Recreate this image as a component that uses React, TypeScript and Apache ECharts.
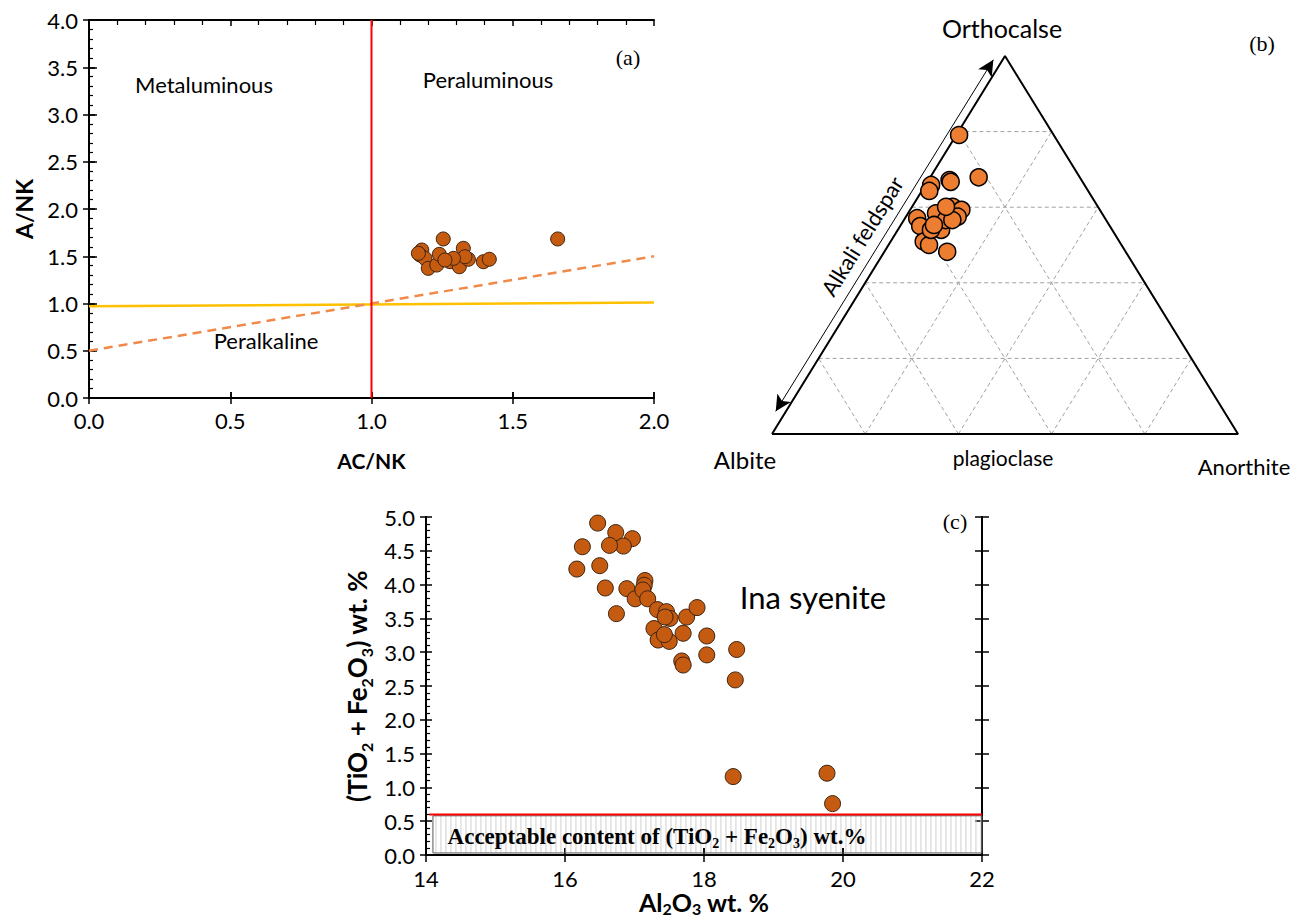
import React, { useEffect, useRef } from "react";
import * as echarts from "echarts";

// ---------- Panel (a): A/NK vs AC/NK ----------
const acnk = [1.254, 1.178, 1.172, 1.189, 1.201, 1.231, 1.240, 1.278, 1.311, 1.325, 1.343, 1.331, 1.396, 1.417, 1.290, 1.260, 1.166, 1.659];
const ank = [1.683, 1.566, 1.513, 1.478, 1.372, 1.407, 1.520, 1.442, 1.389, 1.584, 1.468, 1.495, 1.442, 1.468, 1.478, 1.460, 1.531, 1.683];
const redBoundaryA = [[1, 0], [1, 4]];
const yellowBoundaryA = [[0, 0.97], [2, 1.01]];
const dashedBoundaryA = [[0, 0.5], [2, 1.5]];

// ---------- Panel (b): Or - Ab - An ternary ----------
const orth = [0.791, 0.679, 0.659, 0.643, 0.672, 0.667, 0.571, 0.550, 0.509, 0.500, 0.482, 0.566, 0.553, 0.584, 0.601, 0.593, 0.575, 0.540, 0.540, 0.584, 0.566, 0.566, 0.553, 0.601];
const anor = [0.006, 0.104, 0.012, 0.016, 0.045, 0.050, 0.026, 0.043, 0.071, 0.087, 0.135, 0.072, 0.086, 0.085, 0.087, 0.110, 0.111, 0.093, 0.071, 0.060, 0.090, 0.104, 0.071, 0.073];
const gridFractions = [0.2, 0.4, 0.6, 0.8];

// ---------- Panel (c): TiO2+Fe2O3 vs Al2O3 ----------
const al2o3 = [16.47, 16.73, 16.97, 16.84, 16.64, 16.25, 16.17, 16.50, 16.58, 16.74, 16.89, 17.01, 17.15, 17.14, 17.12, 17.19, 17.33, 17.46, 17.51, 17.44, 17.75, 17.90, 17.28, 17.34, 17.50, 17.43, 17.70, 18.04, 18.04, 17.68, 17.70, 18.47, 18.45, 18.42, 19.77, 19.85];
const tife = [4.91, 4.77, 4.68, 4.57, 4.58, 4.56, 4.23, 4.28, 3.95, 3.57, 3.94, 3.79, 4.06, 3.99, 3.92, 3.79, 3.63, 3.60, 3.50, 3.52, 3.52, 3.66, 3.35, 3.18, 3.16, 3.26, 3.28, 3.24, 2.96, 2.87, 2.81, 3.04, 2.59, 1.16, 1.21, 0.76];
const acceptableLimit = 0.6;
const acceptableBox = [[14.1, 0.03, 22, 0.58]];

const SANS = "Lato, 'Open Sans', sans-serif";
const SERIF = "'Liberation Serif', 'DejaVu Serif', serif";

// ternary (Ab, Or, An) -> cartesian (apex Or at top)
const tern = (or: number, an: number) => [an + or / 2, or];

const axisLine = { show: true, lineStyle: { color: "#000", width: 2 } };
function ax(grid: number, pos: string, min: number, max: number, interval: number, extra: any = {}) {
  return {
    type: "value",
    gridIndex: grid,
    position: pos,
    min,
    max,
    interval,
    splitLine: { show: false },
    axisLine,
    axisTick: { show: false },
    axisLabel: { show: false },
    ...extra,
  };
}
const tick = (inside: boolean, length: number) => ({
  show: true,
  inside,
  length,
  lineStyle: { color: "#000", width: 1.5 },
});
const minor = (length: number) => ({
  show: true,
  splitNumber: 5,
  length,
  lineStyle: { color: "#000", width: 1.2 },
});
const tickLabel = (fmt: (v: number) => string, margin: number, size = 22) => ({
  show: true,
  formatter: fmt,
  margin,
  color: "#000",
  fontFamily: SANS,
  fontSize: size,
});
const subRich = (size: number, sub: number, lh: number) => ({
  b: { fontFamily: SANS, fontWeight: "bold", fontSize: size, color: "#000", lineHeight: lh },
  s: { fontFamily: SANS, fontWeight: "bold", fontSize: sub, color: "#000", lineHeight: lh, verticalAlign: "bottom" },
});

export default function App() {
  const ref = useRef<HTMLDivElement>(null);

  useEffect(() => {
    document.body.style.margin = "0";
    document.body.style.overflow = "hidden";
    if (!ref.current) return;
    const chart = echarts.init(ref.current, null, { renderer: "svg" });

    const xAxis = [
      // grid 0 (a)
      ax(0, "bottom", 0, 2, 0.5, {
        axisTick: tick(false, 6),
        axisLabel: tickLabel((v) => v.toFixed(1), 11),
        name: "AC/NK",
        nameLocation: "middle",
        nameGap: 52,
        nameTextStyle: { fontFamily: SANS, fontWeight: "bold", fontSize: 21, color: "#000" },
      }),
      ax(0, "bottom", 0, 2, 0.5, { axisTick: tick(true, 6) }),
      ax(0, "top", 0, 2, 0.5, { axisTick: tick(false, 6) }),
      ax(0, "top", 0, 2, 0.5, { axisTick: tick(true, 6), minorTick: minor(5) }),
      // grid 1 (b) hidden
      { type: "value", gridIndex: 1, min: 0, max: 1, show: false },
      // grid 2 (c)
      ax(2, "bottom", 14, 22, 2, {
        axisTick: tick(false, 7),
        axisLabel: tickLabel((v) => String(v), 12, 22),
        name: "{b|Al}{s|2}{b|O}{s|3}{b| wt. %}",
        nameLocation: "middle",
        nameGap: 29,
        nameTextStyle: { color: "#000", rich: subRich(25, 16, 28) },
      }),
      ax(2, "bottom", 14, 22, 2, { axisTick: tick(true, 7) }),
      ax(2, "top", 14, 22, 2, { axisTick: tick(false, 7) }),
    ];

    const yAxis = [
      // grid 0 (a)
      ax(0, "left", 0, 4, 0.5, {
        axisTick: tick(false, 6),
        axisLabel: tickLabel((v) => v.toFixed(1), 11),
        name: "A/NK",
        nameLocation: "middle",
        nameGap: 54,
        nameTextStyle: { fontFamily: SANS, fontWeight: "bold", fontSize: 23, color: "#000" },
      }),
      ax(0, "left", 0, 4, 0.5, { axisTick: tick(true, 6), minorTick: minor(4) }),
      ax(0, "right", 0, 4, 0.5, { axisTick: tick(false, 8) }),
      // grid 1 (b) hidden
      { type: "value", gridIndex: 1, min: 0, max: 1, show: false },
      // grid 2 (c)
      ax(2, "left", 0, 5, 0.5, {
        axisTick: tick(false, 6),
        axisLabel: tickLabel((v) => v.toFixed(1), 11),
        name: "{b|(TiO}{s|2}{b| + Fe}{s|2}{b|O}{s|3}{b|) wt. %}",
        nameLocation: "middle",
        nameGap: 52,
        nameTextStyle: { color: "#000", rich: subRich(26, 16, 34) },
      }),
      ax(2, "left", 0, 5, 0.5, { axisTick: tick(true, 6), minorTick: minor(4) }),
      ax(2, "right", 0, 5, 0.5, { axisTick: tick(false, 7) }),
      ax(2, "right", 0, 5, 0.5, { axisTick: tick(true, 7) }),
    ];

    // ternary grid lines
    const ternLines: any[] = [];
    gridFractions.forEach((k) => {
      ternLines.push([tern(k, 0), tern(k, 1 - k)]);
      ternLines.push([tern(0, k), tern(1 - k, k)]);
      ternLines.push([tern(0, 1 - k), tern(1 - k, 0)]);
    });

    const series: any[] = [
      // ---- (a)
      {
        type: "line", xAxisIndex: 0, yAxisIndex: 0, data: yellowBoundaryA, symbol: "none",
        lineStyle: { color: "#FFC000", width: 2.5 }, z: 2, silent: true,
      },
      {
        type: "line", xAxisIndex: 0, yAxisIndex: 0, data: dashedBoundaryA, symbol: "none",
        lineStyle: { color: "#F08A4B", width: 2.5, type: [9, 6] }, z: 2, silent: true,
      },
      {
        type: "line", xAxisIndex: 0, yAxisIndex: 0, data: redBoundaryA, symbol: "none",
        lineStyle: { color: "#FF0000", width: 2 }, z: 2, silent: true,
      },
      {
        type: "scatter", xAxisIndex: 0, yAxisIndex: 0,
        data: acnk.map((x, i) => [x, ank[i]]),
        symbolSize: 14,
        itemStyle: { color: "#C55A11", borderColor: "#3b2410", borderWidth: 1, opacity: 1 },
        z: 5,
      },
      // ---- (b)
      ...ternLines.map((seg) => ({
        type: "line", xAxisIndex: 4, yAxisIndex: 3, data: seg, symbol: "none",
        lineStyle: { color: "#a0a0a0", width: 1, type: [4, 3] }, z: 1, silent: true,
      })),
      {
        type: "line", xAxisIndex: 4, yAxisIndex: 3, symbol: "none", clip: false, silent: true,
        data: [tern(0, 0), tern(1, 0), tern(0, 1), tern(0, 0)],
        lineStyle: { color: "#000", width: 2 }, z: 3,
        markLine: {
          silent: true,
          symbol: ["arrow", "arrow"],
          symbolSize: [12, 16],
          label: { show: false },
          lineStyle: { color: "#000", width: 1, type: "solid" },
          data: [
            [{ coord: [0.008, 0.06] }, { coord: [0.475, 0.99] }],
            [{ coord: [0.019, -0.024] }, { coord: [0.998, -0.024] }],
          ],
        },
      },
      {
        type: "scatter", xAxisIndex: 4, yAxisIndex: 3,
        data: orth.map((o, i) => tern(o, anor[i])),
        symbolSize: 17,
        itemStyle: { color: "#ED7D31", borderColor: "#000", borderWidth: 1.5, opacity: 1 },
        z: 5,
      },
      // ---- (c)
      {
        type: "custom", xAxisIndex: 5, yAxisIndex: 4, data: acceptableBox, silent: true, z: 1,
        renderItem: (params: any, api: any) => {
          const p0 = api.coord([api.value(0), api.value(3)]);
          const p1 = api.coord([api.value(2), api.value(1)]);
          const children: any[] = [];
          for (let x = p0[0] + 3; x < p1[0] - 1; x += 5) {
            children.push({
              type: "line",
              shape: { x1: x, y1: p0[1], x2: x, y2: p1[1] },
              style: { stroke: "#cfcfcf", lineWidth: 1 },
            });
          }
          children.push({
            type: "rect",
            shape: { x: p0[0], y: p0[1], width: p1[0] - p0[0], height: p1[1] - p0[1] },
            style: { fill: "none", stroke: "#555", lineWidth: 1 },
          });
          return { type: "group", children };
        },
      },
      {
        type: "line", xAxisIndex: 5, yAxisIndex: 4, symbol: "none", silent: true,
        data: [[14.05, acceptableLimit], [22, acceptableLimit]],
        lineStyle: { color: "#FF0000", width: 2 }, z: 3,
      },
      {
        type: "scatter", xAxisIndex: 5, yAxisIndex: 4,
        data: al2o3.map((x, i) => [x, tife[i]]),
        symbolSize: 16,
        itemStyle: { color: "#C55A11", borderColor: "#3b2410", borderWidth: 1, opacity: 1 },
        z: 5,
      },
    ];

    const txt = (text: string, x: number, y: number, size: number, family = SANS) => ({
      type: "text",
      x,
      y,
      z: 10,
      style: {
        text,
        fontFamily: family,
        fontSize: size,
        fill: "#000",
        textAlign: "center",
        textVerticalAlign: "middle",
      },
    });

    const graphic: any[] = [
      txt("Metaluminous", 204, 84, 22),
      txt("Peraluminous", 488, 79, 22),
      txt("Peralkaline", 266, 340, 22),
      txt("(a)", 628, 57, 22, SERIF),
      txt("Orthocalse", 1002, 28, 25),
      txt("(b)", 1262, 43, 22, SERIF),
      txt("Albite", 745, 459, 24),
      txt("plagioclase", 1003, 457, 21),
      txt("Anorthite", 1244, 466, 22),
      {
        type: "text",
        x: 862,
        y: 236,
        rotation: Math.atan2(378, 233),
        z: 10,
        style: {
          text: "Alkali feldspar",
          fontFamily: SANS,
          fontSize: 22,
          fill: "#000",
          textAlign: "center",
          textVerticalAlign: "middle",
        },
      },
      txt("Ina syenite", 813, 597, 31),
      txt("(c)", 955, 521, 22, SERIF),
      {
        type: "text",
        x: 657,
        y: 836,
        z: 10,
        style: {
          text: "{a|Acceptable content of (TiO}{s|2}{a| + Fe}{s|2}{a|O}{s|3}{a|) wt.%}",
          textAlign: "center",
          textVerticalAlign: "middle",
          rich: {
            a: { fontFamily: SERIF, fontWeight: "bold", fontSize: 23, fill: "#000", lineHeight: 28 },
            s: { fontFamily: SERIF, fontWeight: "bold", fontSize: 14, fill: "#000", lineHeight: 28, verticalAlign: "bottom" },
          },
        },
      },
    ];

    chart.setOption({
      animation: false,
      backgroundColor: "#fff",
      grid: [
        { left: 89, top: 20, width: 565, height: 378, outerBoundsMode: "none", containLabel: false },
        { left: 772, top: 56, width: 466, height: 378, outerBoundsMode: "none", containLabel: false },
        { left: 426, top: 517, width: 556, height: 338, outerBoundsMode: "none", containLabel: false },
      ],
      xAxis,
      yAxis,
      series,
      graphic,
    });

    return () => chart.dispose();
  }, []);

  return <div ref={ref} style={{ width: 1301, height: 922 }} />;
}
